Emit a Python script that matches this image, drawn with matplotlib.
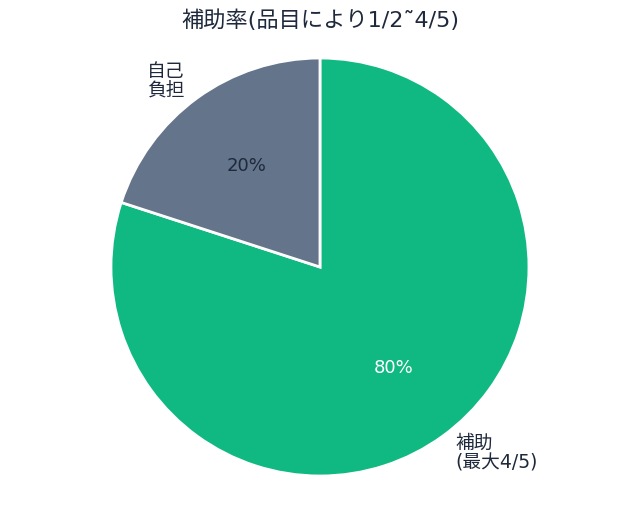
import matplotlib
matplotlib.use("Agg")
import matplotlib.pyplot as plt

# data
labels = ["補助\n(最大4/5)", "自己\n負担"]
values = [80, 20]
colors = ["#10b981", "#64748b"]
pct_colors = ["white", "#1e293b"]
title = "補助率(品目により1/2\u02dc4/5)"

plt.rcParams['font.family'] = ['DejaVu Sans', 'Noto Sans CJK JP']

fig = plt.figure(figsize=(6.4, 5.08), dpi=100)
ax = fig.add_axes([0.1734, 0.063, 0.6531, 0.8228])

wedges, texts, autotexts = ax.pie(
    values, labels=labels, colors=colors, startangle=90, counterclock=False,
    autopct="%d%%", pctdistance=0.6, labeldistance=1.1,
    wedgeprops=dict(edgecolor="white", linewidth=2),
    textprops=dict(fontsize=13.5, color="#1e293b", linespacing=1.05))
for t, c in zip(autotexts, pct_colors):
    t.set_color(c)
    t.set_fontsize(13)

ax.set_xlim(-1, 1)
ax.set_ylim(-1, 1)
ax.set_aspect("equal")

fig.text(0.5, 0.96, title, ha="center", va="center", fontsize=16, color="#1e293b")

fig.savefig("out.png", dpi=100)
